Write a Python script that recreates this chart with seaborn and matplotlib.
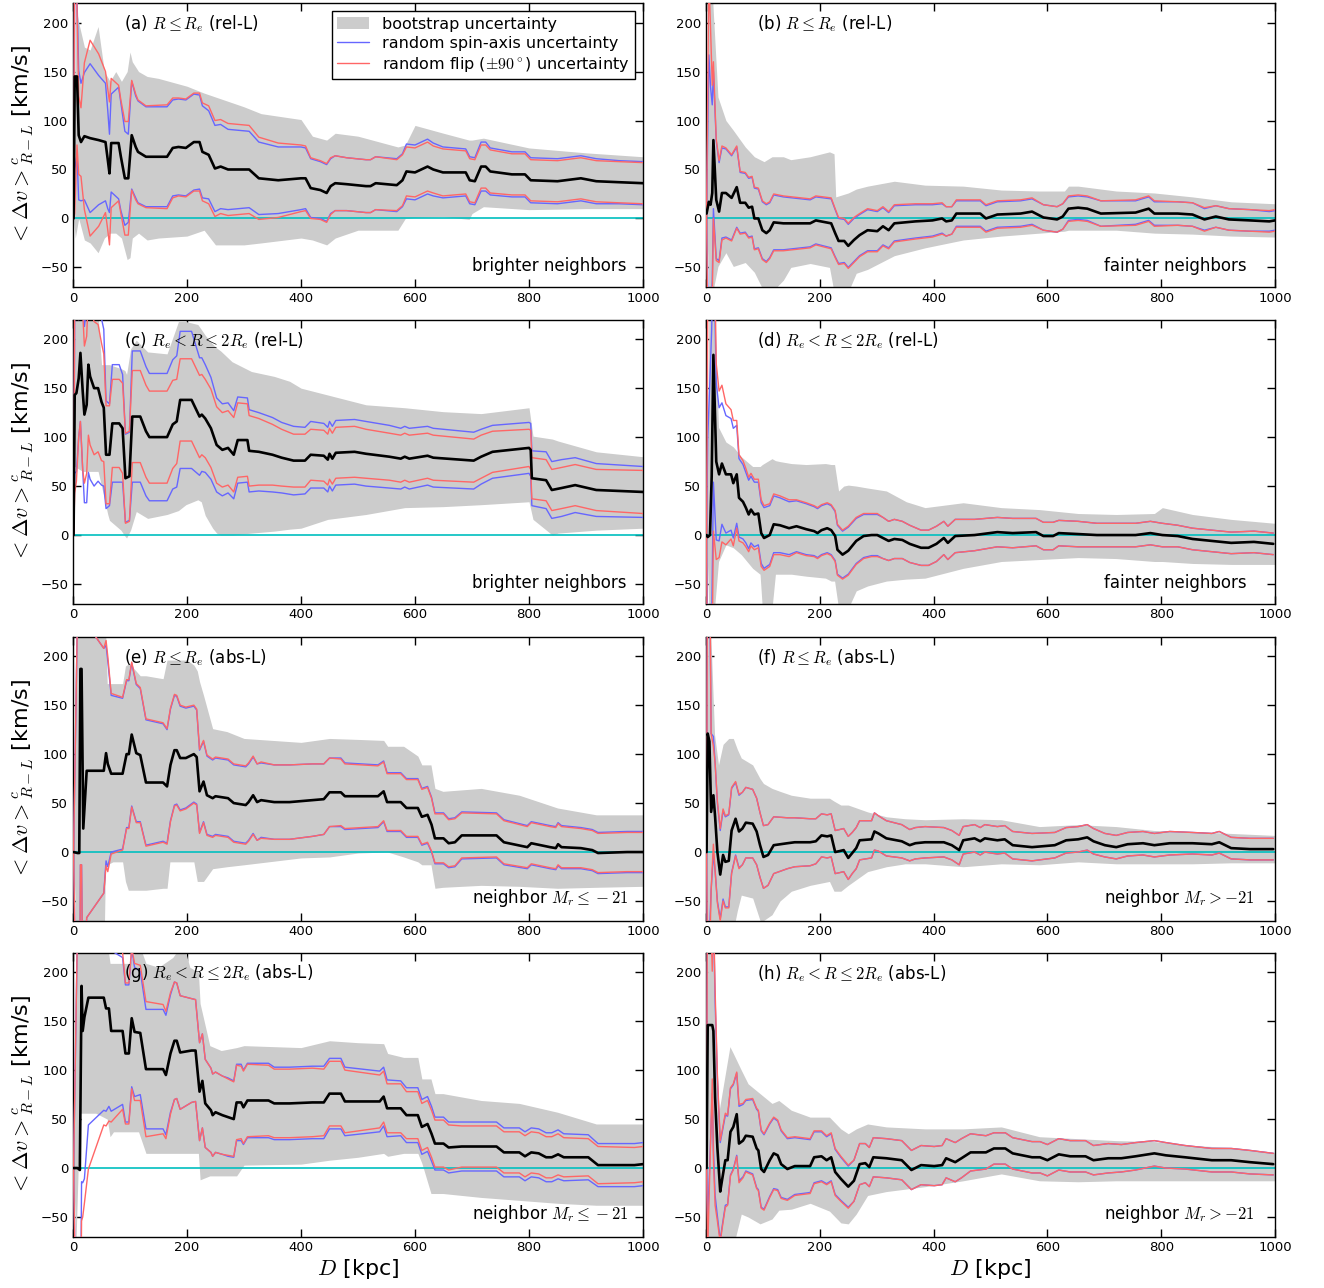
import numpy as np
import matplotlib
matplotlib.use("Agg")
import matplotlib.pyplot as plt
from matplotlib.patches import Patch
from matplotlib.lines import Line2D
import seaborn as sns

# ---------------- (a) R <= Re, rel-L, brighter neighbors ----------------
dist_a = [1, 3, 7, 10, 14, 20, 30, 45, 57, 61, 64, 67, 80, 84, 91, 97, 103, 110, 114, 128,
          165, 175, 185, 198, 212, 222, 227, 238, 249, 259, 272, 309, 326, 360, 400, 408, 417, 434, 445, 452,
          460, 480, 514, 522, 531, 568, 578, 585, 600, 622, 632, 649, 689, 696, 705, 716, 724, 732, 770, 793,
          803, 850, 891, 918, 958, 1000]
mean_a = [0, 145, 145, 85, 78, 84, 82, 80, 78, 60, 46, 77, 77, 63, 41, 41, 85, 73, 68, 63,
          63, 72, 73, 72, 78, 78, 68, 65, 51, 53, 50, 50, 41, 39, 41, 41, 31, 29, 26, 33,
          36, 35, 33, 33, 36, 34, 39, 48, 47, 53, 50, 47, 47, 39, 38, 53, 53, 48, 45, 45,
          39, 38, 41, 38, 37, 36]
spin_a = [0, 95, 80, 66, 60, 65, 76, 66, 60, 50, 40, 50, 57, 55, 48, 45, 55, 52, 52, 51,
          51, 49, 49, 49, 49, 48, 47, 45, 44, 43, 41, 39, 37, 34, 32, 31, 30, 29, 29, 28,
          28, 27, 27, 27, 27, 27, 27, 28, 28, 28, 27, 26, 24, 24, 24, 25, 25, 24, 23, 23,
          23, 23, 23, 23, 22, 22]
flip_a = [0, 140, 70, 40, 35, 75, 100, 88, 72, 72, 73, 66, 59, 58, 58, 58, 56, 54, 53, 52,
          53, 51, 50, 50, 50, 50, 50, 50, 49, 48, 47, 45, 42, 38, 34, 33, 31, 30, 30, 29,
          28, 27, 27, 27, 27, 26, 26, 25, 25, 25, 24, 24, 22, 22, 22, 22, 22, 22, 21, 21,
          21, 21, 21, 21, 21, 21]
boot_d_a = [1, 4, 10, 20, 30, 44, 55, 65, 75, 85, 95, 100, 104, 115, 130, 150, 200, 230, 250, 300,
            330, 400, 420, 445, 460, 500, 570, 583, 600, 650, 695, 700, 720, 800, 900, 1000]
boot_hi_a = [0, 220, 200, 175, 172, 196, 150, 140, 150, 140, 150, 170, 160, 150, 145, 143, 135, 128, 124, 114,
             107, 101, 84, 80, 87, 84, 73, 75, 95, 87, 80, 80, 82, 72, 67, 63]
boot_lo_a = [0, -20, 0, -22, -25, -35, -20, -15, -15, -20, -42, -40, -20, -15, -22, -20, -18, -12, -27, -27,
             -25, -20, -22, -27, -20, -12, -12, 0, 1, 2, -1, 5, 12, 9, 10, 10]

# ---------------- (b) R <= Re, rel-L, fainter neighbors ----------------
dist_b = [1, 5, 8, 11, 13, 18, 23, 28, 35, 45, 54, 60, 69, 75, 81, 85, 92, 99, 106, 112,
          119, 136, 183, 193, 220, 227, 233, 243, 250, 260, 270, 284, 301, 311, 321, 331, 368, 398, 415, 422,
          432, 440, 482, 492, 512, 553, 573, 593, 617, 627, 637, 654, 670, 694, 755, 778, 788, 829, 855, 876,
          896, 919, 956, 990, 1000]
mean_b = [5, 17, 14, 26, 80, 19, 7, 26, 26, 21, 32, 16, 16, 11, 12, 0, 0, -12, -15, -12,
          -4, -5, -5, -2, -5, -15, -23, -23, -28, -22, -17, -12, -13, -8, -12, -5, -3, -2, 0, -3,
          -2, 5, 5, 0, 4, 5, 7, 1, -1, 2, 10, 11, 10, 5, 6, 10, 5, 5, 4, -1,
          2, -1, -2, -3, -2]
spin_b = [0, 150, 120, 90, 70, 60, 50, 46, 45, 43, 41, 31, 30, 30, 30, 31, 30, 29, 29, 28,
          28, 27, 24, 24, 25, 24, 23, 22, 22, 22, 21, 21, 20, 19, 18, 18, 17, 16, 15, 15,
          14, 13, 13, 13, 13, 13, 13, 13, 13, 13, 12, 12, 12, 13, 12, 12, 12, 12, 12, 11,
          11, 11, 11, 10, 10]
flip_b = [0, 230, 180, 110, 80, 62, 52, 48, 46, 44, 42, 32, 31, 31, 31, 32, 31, 30, 30, 29,
          29, 28, 25, 25, 26, 25, 24, 23, 23, 23, 22, 22, 21, 20, 19, 19, 18, 17, 16, 15,
          14, 14, 14, 14, 14, 14, 14, 13, 13, 13, 13, 13, 13, 13, 13, 13, 13, 12, 12, 12,
          11, 11, 11, 11, 11]
boot_d_b = [1, 5, 12, 21, 35, 48, 69, 85, 102, 116, 136, 149, 183, 217, 225, 228, 250, 264, 284, 331,
            385, 452, 519, 586, 630, 637, 654, 721, 788, 855, 923, 1000]
boot_hi_b = [0, 220, 220, 124, 100, 90, 73, 63, 58, 63, 63, 60, 63, 68, 66, 22, 26, 30, 33, 38,
             34, 33, 29, 28, 28, 33, 33, 28, 26, 22, 17, 15]
boot_lo_b = [0, -75, -75, -49, -35, -49, -45, -55, -75, -75, -63, -50, -46, -50, -75, -75, -75, -56, -52, -38,
             -30, -22, -18, -15, -13, -12, -12, -12, -15, -16, -18, -19]

# ---------------- (c) Re < R <= 2Re, rel-L, brighter neighbors ----------------
dist_c = [1, 3, 6, 10, 13, 17, 20, 24, 27, 30, 37, 44, 50, 54, 58, 64, 69, 81, 87, 92,
          99, 104, 118, 128, 134, 165, 175, 182, 188, 208, 222, 226, 232, 242, 252, 262, 272, 282, 289, 306,
          309, 326, 350, 366, 387, 407, 417, 440, 447, 450, 455, 461, 494, 514, 555, 575, 582, 590, 622, 632,
          703, 716, 736, 800, 803, 805, 830, 840, 857, 881, 918, 1000]
mean_c = [0, 143, 145, 160, 186, 147, 123, 133, 174, 162, 150, 150, 136, 130, 82, 82, 114, 114, 109, 58,
          60, 121, 121, 106, 100, 100, 113, 116, 138, 138, 121, 123, 119, 109, 92, 87, 89, 82, 97, 97,
          86, 85, 82, 79, 76, 76, 82, 81, 77, 83, 78, 84, 85, 83, 80, 78, 80, 78, 81, 79,
          76, 80, 85, 89, 87, 58, 56, 46, 48, 51, 46, 44]
spin_c = [0, 80, 80, 60, 70, 80, 90, 100, 110, 105, 100, 95, 85, 80, 55, 52, 60, 60, 55, 45,
          45, 67, 67, 66, 65, 65, 66, 67, 70, 70, 60, 58, 55, 52, 48, 47, 46, 45, 44, 43,
          42, 40, 38, 36, 35, 34, 34, 33, 33, 33, 33, 33, 33, 33, 32, 31, 31, 31, 30, 30,
          29, 28, 27, 26, 27, 28, 29, 29, 29, 28, 27, 26]
flip_c = [0, 100, 90, 60, 70, 80, 70, 70, 72, 70, 68, 65, 60, 55, 50, 50, 45, 45, 46, 46,
          46, 47, 47, 47, 47, 47, 45, 43, 42, 42, 42, 41, 40, 40, 39, 38, 38, 38, 38, 37,
          36, 34, 31, 29, 27, 27, 26, 26, 26, 26, 26, 26, 26, 25, 24, 24, 24, 24, 23, 23,
          22, 22, 21, 19, 20, 21, 21, 21, 21, 21, 21, 22]
boot_d_c = [1, 3, 17, 44, 50, 61, 64, 84, 91, 94, 101, 111, 131, 165, 185, 198, 219, 225, 232, 245,
            252, 259, 279, 313, 353, 380, 400, 447, 514, 582, 649, 716, 800, 807, 841, 851, 918, 1000]
boot_hi_c = [0, 220, 225, 225, 174, 174, 174, 170, 168, 164, 190, 199, 187, 185, 218, 218, 215, 210, 204, 195,
             191, 188, 177, 167, 162, 157, 150, 143, 133, 130, 126, 124, 130, 101, 98, 96, 85, 80]
boot_lo_c = [0, 70, 65, 65, 50, 21, 15, 5, -1, -3, 5, 24, 17, 21, 25, 31, 36, 34, 20, 7,
             2, 0, 0, 2, 4, 6, 7, 16, 21, 28, 29, 31, 34, 16, 0, 2, 5, 7]

# ---------------- (d) Re < R <= 2Re, rel-L, fainter neighbors ----------------
dist_d = [1, 3, 7, 10, 13, 18, 23, 28, 35, 44, 48, 54, 58, 65, 70, 75, 79, 85, 92, 97,
          102, 112, 119, 130, 146, 159, 176, 190, 196, 203, 213, 220, 227, 231, 240, 250, 264, 277, 291, 301,
          311, 321, 331, 345, 358, 378, 391, 405, 418, 425, 438, 472, 512, 539, 580, 593, 610, 620, 654, 687,
          721, 755, 781, 802, 829, 855, 889, 923, 963, 997]
mean_d = [0, -2, 0, 60, 184, 75, 62, 73, 62, 62, 53, 62, 38, 34, 28, 21, 26, 21, 22, 2,
          -3, 0, 11, 10, 7, 9, 6, 4, 2, 5, 7, 5, -1, -15, -20, -16, -6, -1, 0, 0,
          -3, -6, -4, -5, -9, -13, -13, -9, -3, -8, -1, 0, 3, 2, 3, -1, -1, 2, 1, 0,
          0, 0, 2, 0, -1, -4, -6, -8, -7, -9]
spin_d = [0, 100, 160, 150, 130, 80, 68, 62, 60, 57, 56, 50, 40, 38, 36, 35, 34, 33, 32, 31,
          31, 30, 29, 28, 27, 26, 26, 25, 25, 25, 25, 25, 25, 25, 24, 24, 23, 22, 21, 21,
          21, 20, 20, 19, 19, 18, 18, 18, 17, 17, 17, 16, 15, 15, 14, 14, 14, 13, 13, 12,
          12, 12, 12, 12, 11, 11, 11, 11, 11, 11]
flip_d = [0, 230, 250, 220, 180, 100, 85, 80, 72, 66, 64, 55, 44, 42, 40, 38, 37, 36, 35, 34,
          33, 32, 31, 30, 29, 27, 27, 26, 26, 26, 26, 26, 26, 26, 25, 25, 24, 23, 22, 22,
          21, 20, 20, 19, 19, 18, 18, 18, 17, 17, 17, 16, 15, 15, 14, 14, 14, 13, 13, 12,
          12, 12, 12, 12, 11, 11, 11, 11, 11, 11]
boot_d_d = [1, 5, 9, 15, 22, 35, 48, 62, 82, 95, 99, 116, 122, 130, 150, 176, 210, 220, 226, 233,
            242, 250, 264, 284, 317, 352, 385, 452, 519, 586, 654, 721, 788, 802, 855, 923, 1000]
boot_hi_d = [0, 220, 225, 225, 110, 95, 90, 80, 70, 70, 72, 78, 76, 75, 73, 72, 73, 72, 72, 45,
             50, 51, 50, 48, 45, 34, 28, 33, 28, 26, 22, 21, 22, 28, 21, 16, 12]
boot_lo_d = [0, -75, -75, -75, -27, -10, -13, -20, -34, -40, -75, -75, -40, -40, -40, -42, -44, -47, -47, -75,
             -75, -75, -57, -52, -47, -45, -44, -34, -27, -25, -23, -24, -27, -27, -29, -30, -30]

# ---------------- (e) R <= Re, abs-L, neighbor Mr <= -21 ----------------
dist_e = [1, 8, 11, 13, 15, 18, 24, 54, 58, 61, 67, 87, 94, 98, 103, 111, 118, 128, 158, 165,
          171, 178, 182, 188, 198, 212, 217, 222, 229, 235, 245, 250, 272, 282, 303, 308, 316, 323, 330, 353,
          380, 420, 440, 450, 470, 477, 535, 545, 551, 575, 585, 605, 612, 622, 629, 635, 650, 659, 670, 682,
          743, 756, 797, 804, 837, 847, 851, 857, 891, 911, 921, 972, 1000]
mean_e = [0, -1, -1, 187, 187, 24, 83, 83, 101, 90, 80, 80, 100, 100, 120, 101, 99, 71, 71, 67,
          89, 104, 104, 96, 96, 100, 97, 62, 72, 58, 55, 57, 55, 50, 48, 51, 58, 51, 53, 51,
          51, 53, 54, 61, 61, 57, 57, 62, 51, 51, 45, 45, 36, 38, 28, 14, 14, 9, 10, 17,
          17, 10, 5, 9, 5, 4, 8, 5, 4, 2, -1, 0, 0]
spin_e = [0, 250, 250, 200, 200, 200, 150, 125, 110, 105, 80, 77, 75, 75, 73, 70, 68, 64, 60, 58,
          57, 56, 55, 53, 51, 49, 48, 42, 41, 40, 39, 39, 39, 39, 39, 39, 39, 39, 38, 38,
          38, 37, 36, 35, 35, 34, 32, 31, 30, 30, 30, 30, 29, 29, 28, 26, 26, 25, 25, 24,
          23, 23, 22, 22, 22, 22, 22, 22, 21, 21, 21, 21, 21]
flip_e = [0, 250, 250, 200, 200, 200, 150, 125, 115, 110, 82, 78, 76, 76, 74, 71, 69, 65, 61, 59,
          58, 57, 56, 54, 52, 50, 49, 43, 42, 41, 40, 40, 40, 40, 40, 40, 40, 39, 39, 38,
          38, 37, 36, 35, 34, 33, 31, 30, 29, 29, 29, 29, 28, 28, 27, 25, 25, 24, 24, 23,
          22, 22, 21, 21, 21, 21, 21, 21, 20, 20, 20, 20, 20]
boot_d_e = [1, 5, 10, 55, 57, 60, 70, 87, 92, 97, 100, 118, 128, 158, 165, 170, 200, 212, 218, 222,
            229, 245, 270, 300, 400, 450, 500, 545, 552, 580, 605, 612, 628, 635, 649, 716, 783, 850, 918, 1000]
boot_hi_e = [0, 230, 230, 230, 230, 172, 172, 172, 190, 192, 192, 180, 180, 177, 196, 196, 196, 191, 185, 174,
             160, 126, 123, 116, 112, 116, 115, 114, 108, 108, 98, 89, 89, 65, 62, 65, 58, 45, 38, 38]
boot_lo_e = [0, -80, -80, -80, -13, -13, -10, -10, -30, -39, -39, -39, -39, -37, -37, -10, -10, -10, -30, -30,
             -30, -17, -15, -13, -6, -5, -1, 0, 0, -5, -10, -13, -13, -37, -36, -34, -35, -37, -36, -35]

# ---------------- (f) R <= Re, abs-L, neighbor Mr > -21 ----------------
dist_f = [1, 3, 6, 9, 13, 16, 20, 25, 30, 34, 40, 45, 52, 58, 64, 70, 82, 89, 95, 101,
          109, 119, 143, 156, 183, 193, 203, 213, 220, 227, 235, 242, 250, 257, 264, 270, 291, 296, 303, 317,
          344, 358, 368, 385, 418, 432, 445, 452, 472, 482, 490, 512, 525, 539, 573, 613, 633, 654, 670, 681,
          701, 721, 741, 768, 788, 815, 855, 889, 902, 923, 956, 997]
mean_f = [0, 121, 113, 41, 58, 36, 0, -23, -3, -10, -9, 22, 34, 21, 24, 30, 29, 21, 7, -5,
          -3, 7, 9, 10, 10, 11, 17, 16, 17, 0, 1, 2, -6, -1, 4, 12, 13, 21, 19, 14,
          11, 7, 9, 10, 10, 7, 2, 12, 14, 11, 14, 12, 13, 7, 5, 7, 12, 13, 15, 11,
          7, 5, 8, 9, 7, 9, 9, 8, 10, 4, 3, 3]
spin_f = [0, 250, 200, 80, 60, 55, 50, 45, 45, 46, 47, 43, 37, 37, 37, 36, 35, 34, 33, 32,
          31, 29, 26, 25, 24, 23, 22, 22, 22, 22, 22, 22, 22, 21, 21, 20, 19, 19, 18, 18,
          17, 16, 16, 16, 15, 15, 15, 14, 14, 14, 14, 14, 14, 14, 14, 13, 13, 13, 13, 13,
          12, 12, 12, 12, 12, 12, 11, 11, 11, 11, 11, 11]
flip_f = [0, 250, 230, 80, 50, 55, 52, 47, 47, 47, 48, 44, 38, 38, 37, 36, 35, 34, 33, 32,
          31, 29, 26, 25, 24, 23, 22, 22, 22, 22, 22, 22, 22, 21, 21, 20, 19, 19, 18, 18,
          17, 16, 16, 16, 15, 15, 15, 14, 14, 14, 14, 14, 14, 14, 14, 13, 13, 13, 13, 13,
          12, 12, 12, 12, 12, 12, 11, 11, 11, 11, 11, 11]
boot_d_f = [1, 3, 8, 15, 22, 30, 40, 48, 55, 62, 82, 95, 101, 116, 130, 150, 183, 217, 225, 237,
            250, 284, 317, 350, 385, 452, 519, 586, 654, 721, 788, 855, 923, 1000]
boot_hi_f = [0, 230, 230, 120, 89, 110, 116, 116, 105, 96, 89, 75, 70, 65, 62, 58, 55, 55, 52, 48,
             48, 41, 36, 34, 33, 34, 33, 26, 28, 26, 22, 21, 19, 17]
boot_lo_f = [0, -80, -80, -80, -80, -80, -80, -80, -60, -44, -47, -70, -70, -64, -50, -40, -34, -30, -40, -40,
             -34, -20, -15, -12, -12, -15, -12, -13, -10, -12, -12, -12, -11, -11]

# ---------------- (g) Re < R <= 2Re, abs-L, neighbor Mr <= -21 ----------------
dist_g = [1, 8, 12, 15, 17, 20, 27, 54, 58, 63, 67, 87, 92, 98, 103, 108, 118, 128, 158, 163,
          171, 178, 182, 188, 208, 215, 222, 227, 232, 242, 245, 250, 262, 272, 282, 287, 295, 299, 306, 343,
          353, 380, 420, 440, 450, 470, 477, 538, 545, 551, 575, 585, 605, 612, 622, 629, 635, 650, 659, 682,
          743, 756, 783, 793, 804, 817, 830, 840, 851, 861, 904, 921, 985, 1000]
mean_g = [0, 0, -2, 186, 140, 154, 174, 174, 163, 163, 140, 140, 117, 117, 153, 139, 138, 101, 101, 95,
          117, 130, 130, 118, 120, 120, 78, 89, 66, 59, 54, 57, 54, 52, 50, 67, 67, 62, 69, 69,
          66, 66, 67, 67, 76, 76, 68, 68, 73, 61, 61, 54, 54, 42, 45, 35, 25, 25, 21, 22,
          22, 16, 16, 12, 16, 15, 11, 11, 14, 11, 11, 3, 3, 4]
spin_g = [0, 250, 250, 200, 155, 165, 130, 115, 105, 100, 82, 75, 70, 70, 70, 66, 63, 61, 61, 61,
          60, 60, 59, 58, 53, 52, 50, 48, 45, 43, 42, 41, 40, 40, 39, 39, 39, 38, 38, 38,
          37, 37, 37, 37, 36, 36, 35, 31, 30, 29, 28, 28, 28, 28, 28, 28, 27, 27, 26, 25,
          25, 25, 25, 25, 25, 25, 25, 25, 25, 24, 23, 22, 22, 22]
flip_g = [0, 250, 250, 240, 190, 190, 175, 130, 120, 115, 93, 80, 72, 72, 72, 70, 69, 69, 66, 65,
          62, 60, 59, 58, 53, 52, 50, 48, 45, 43, 42, 41, 40, 39, 38, 38, 37, 37, 37, 36,
          35, 35, 35, 34, 33, 33, 32, 27, 26, 25, 25, 24, 24, 24, 24, 24, 24, 24, 23, 21,
          21, 21, 21, 21, 21, 21, 21, 21, 21, 20, 19, 19, 18, 18]
boot_d_g = [1, 5, 12, 20, 40, 60, 65, 71, 100, 115, 128, 150, 175, 193, 205, 220, 223, 240, 260, 287,
            300, 400, 450, 500, 545, 552, 580, 605, 612, 628, 635, 649, 716, 783, 850, 918, 1000]
boot_hi_g = [0, 230, 230, 230, 230, 230, 209, 209, 209, 230, 209, 205, 215, 230, 205, 200, 168, 125, 120, 123,
             125, 123, 130, 128, 127, 117, 113, 113, 91, 91, 76, 76, 69, 66, 57, 45, 45]
boot_lo_g = [0, -80, 56, 56, 56, 50, 32, 37, 37, 37, 15, 15, 15, 15, 15, 15, -12, -8, -8, -8,
             3, 4, 8, 11, 15, 12, 15, 15, 5, -26, -26, -26, -30, -33, -36, -38, -38]

# ---------------- (h) Re < R <= 2Re, abs-L, neighbor Mr > -21 ----------------
dist_h = [1, 3, 11, 13, 16, 20, 25, 28, 34, 38, 43, 48, 54, 58, 65, 70, 82, 89, 92, 97,
          102, 112, 119, 126, 132, 143, 156, 183, 190, 203, 212, 220, 227, 237, 250, 260, 270, 280, 287, 294,
          317, 344, 361, 378, 401, 415, 422, 438, 449, 465, 492, 506, 526, 539, 573, 587, 600, 620, 640, 667,
          681, 707, 730, 755, 788, 808, 842, 889, 923, 956, 997]
mean_h = [0, 146, 146, 140, 72, 21, -24, -13, 8, 8, 37, 42, 55, 25, 28, 33, 32, 20, 18, -1,
          -4, 8, 15, 13, 4, -1, 2, 2, 11, 12, 8, 11, -4, -11, -19, -13, 4, 5, 1, 11,
          10, 8, -2, 3, 2, 3, 10, 6, 10, 16, 16, 20, 20, 15, 11, 11, 8, 14, 12, 12,
          8, 10, 10, 12, 15, 13, 11, 8, 8, 6, 4]
spin_h = [0, 200, 70, 120, 100, 70, 50, 48, 46, 45, 44, 43, 42, 38, 37, 36, 38, 40, 40, 39,
          38, 37, 36, 35, 34, 31, 29, 27, 26, 25, 24, 24, 23, 22, 21, 21, 21, 20, 20, 20,
          20, 20, 20, 20, 20, 20, 20, 20, 20, 19, 17, 16, 16, 16, 16, 16, 16, 16, 16, 16,
          15, 15, 14, 14, 13, 13, 12, 12, 12, 12, 11]
flip_h = [0, 230, 55, 130, 110, 75, 52, 50, 48, 46, 45, 44, 43, 40, 38, 37, 39, 41, 41, 40,
          39, 38, 37, 36, 35, 32, 30, 28, 27, 26, 25, 25, 24, 23, 22, 21, 21, 20, 20, 20,
          20, 20, 20, 20, 20, 20, 20, 20, 20, 19, 17, 16, 16, 16, 16, 16, 16, 16, 16, 16,
          15, 15, 14, 14, 13, 13, 12, 12, 12, 12, 11]
boot_d_h = [1, 3, 12, 22, 42, 48, 62, 74, 95, 116, 128, 150, 183, 217, 237, 250, 264, 284, 317, 385,
            452, 519, 586, 654, 721, 788, 855, 923, 1000]
boot_hi_h = [0, 230, 230, 55, 124, 117, 100, 86, 76, 66, 69, 59, 52, 52, 40, 35, 40, 45, 42, 40,
             40, 42, 32, 30, 28, 27, 23, 21, 16]
boot_lo_h = [0, -80, -80, -80, -80, -80, -47, -50, -57, -52, -43, -42, -36, -44, -56, -57, -47, -28, -24, -19,
             -13, -6, -13, -14, -13, -13, -13, -13, -13]

# ---------------- labels ----------------
panel_tags = [r"(a) $R \leq R_e$ (rel-L)", r"(b) $R \leq R_e$ (rel-L)",
              r"(c) $R_e < R \leq 2R_e$ (rel-L)", r"(d) $R_e < R \leq 2R_e$ (rel-L)",
              r"(e) $R \leq R_e$ (abs-L)", r"(f) $R \leq R_e$ (abs-L)",
              r"(g) $R_e < R \leq 2R_e$ (abs-L)", r"(h) $R_e < R \leq 2R_e$ (abs-L)"]
sample_notes = ["brighter neighbors", "fainter neighbors",
                "brighter neighbors", "fainter neighbors",
                r"neighbor $M_r \leq -21$", r"neighbor $M_r > -21$",
                r"neighbor $M_r \leq -21$", r"neighbor $M_r > -21$"]
legend_labels = ["bootstrap uncertainty", "random spin-axis uncertainty",
                 r"random flip ($\pm90^\circ$) uncertainty"]
x_ticks = [0, 200, 400, 600, 800, 1000]
y_ticks = [-50, 0, 50, 100, 150, 200]

# ---------------- style ----------------
sns.set_theme(style="ticks", rc={
    "xtick.direction": "in", "ytick.direction": "in",
    "xtick.top": True, "ytick.right": True,
    "xtick.major.size": 6, "ytick.major.size": 6,
    "xtick.major.width": 1.0, "ytick.major.width": 1.0,
    "axes.linewidth": 1.0, "axes.edgecolor": "black",
    "xtick.labelsize": 9.5, "ytick.labelsize": 9.5,
    "xtick.color": "black", "ytick.color": "black",
    "text.color": "black", "axes.labelcolor": "black",
})
plt.rcParams["font.family"] = ["DejaVu Sans"]
plt.rcParams["mathtext.fontset"] = "cm"

BAND = "#cccccc"
ZERO = "#00bfbf"
BLUE = "#6666ff"
RED = "#ff6666"

panels = [
    (dist_a, mean_a, spin_a, flip_a, boot_d_a, boot_lo_a, boot_hi_a),
    (dist_b, mean_b, spin_b, flip_b, boot_d_b, boot_lo_b, boot_hi_b),
    (dist_c, mean_c, spin_c, flip_c, boot_d_c, boot_lo_c, boot_hi_c),
    (dist_d, mean_d, spin_d, flip_d, boot_d_d, boot_lo_d, boot_hi_d),
    (dist_e, mean_e, spin_e, flip_e, boot_d_e, boot_lo_e, boot_hi_e),
    (dist_f, mean_f, spin_f, flip_f, boot_d_f, boot_lo_f, boot_hi_f),
    (dist_g, mean_g, spin_g, flip_g, boot_d_g, boot_lo_g, boot_hi_g),
    (dist_h, mean_h, spin_h, flip_h, boot_d_h, boot_lo_h, boot_hi_h),
]

W, H = 1324, 1288
fig = plt.figure(figsize=(W / 100, H / 100), dpi=100)
col_left = [73 / W, 706 / W]
col_width = [570 / W, 569 / W]
row_bottom = [1 - 287 / H, 1 - 603.6 / H, 1 - 920.6 / H, 1 - 1236.6 / H]
ax_h = 284 / H

for i, (dist, mean, spin, flip, bd, blo, bhi) in enumerate(panels):
    row, col = divmod(i, 2)
    ax = fig.add_axes([col_left[col], row_bottom[row], col_width[col], ax_h])
    x = np.asarray(dist, float)
    m = np.asarray(mean, float)
    s = np.asarray(spin, float)
    f = np.asarray(flip, float)

    ax.fill_between(bd, blo, bhi, color=BAND, lw=0, zorder=1)
    ax.axhline(0, color=ZERO, lw=1.2, zorder=2)
    for sign in (1, -1):
        sns.lineplot(x=x, y=m + sign * s, ax=ax, estimator=None, sort=False,
                     legend=False, zorder=3, color=BLUE, lw=1.0)
    for sign in (1, -1):
        sns.lineplot(x=x, y=m + sign * f, ax=ax, estimator=None, sort=False,
                     legend=False, zorder=3, color=RED, lw=1.0)
    sns.lineplot(x=x, y=m, ax=ax, estimator=None, sort=False, legend=False,
                 color="black", lw=1.9, zorder=4)

    ax.set_xlim(0, 1000)
    ax.set_ylim(-70, 220)
    ax.set_xticks(x_ticks)
    ax.set_yticks(y_ticks)
    ax.set_xlabel("")
    ax.set_ylabel("")

    ax.text(90, 188, panel_tags[i], fontsize=12, ha="left", va="bottom", zorder=5)
    ax.text(700, -58, sample_notes[i], fontsize=12, ha="left", va="bottom", zorder=5)

    if col == 0:
        ax.set_ylabel(r"$<\Delta v>^c_{R-L}$ [km/s]", fontsize=16)
    if row == 3:
        ax.set_xlabel(r"$D$ [kpc]", fontsize=16, labelpad=2)

    if i == 0:
        handles = [Patch(facecolor=BAND, edgecolor="none"),
                   Line2D([], [], color=BLUE, lw=1.0), Line2D([], [], color=RED, lw=1.0)]
        leg = ax.legend(handles, legend_labels, loc="upper right", fontsize=11.5,
                        frameon=True, fancybox=False, framealpha=1,
                        edgecolor="black", handlelength=2.0, borderpad=0.35,
                        labelspacing=0.25, handletextpad=0.8)
        leg.get_frame().set_linewidth(1.0)
        leg.set_zorder(6)

fig.savefig("out.png", dpi=100)
